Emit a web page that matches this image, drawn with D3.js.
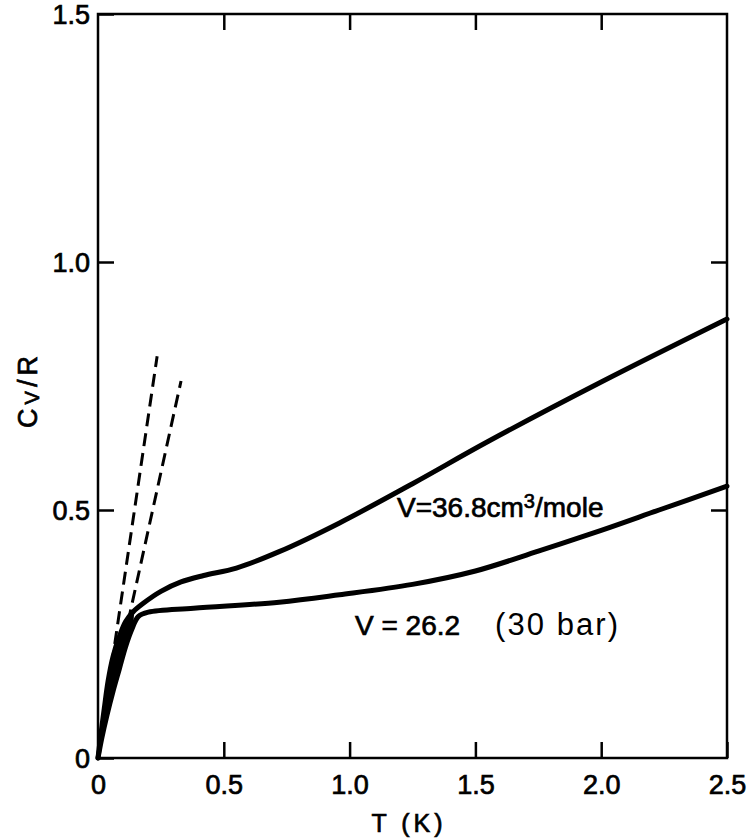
<!DOCTYPE html>
<html>
<head>
<meta charset="utf-8">
<script src="https://cdn.jsdelivr.net/npm/d3@7"></script>
<style>
  html, body { margin: 0; padding: 0; background: #fff; }
  svg { display: block; }
  .lbl { font-family: "Liberation Sans", Arial, sans-serif; fill: #000; }
  .ink { stroke: #000; stroke-width: 0.7px; }
</style>
</head>
<body>
<div id="chart"></div>
<script>
// Specific heat of liquid 3He vs temperature at two molar volumes
const xTicks = [0, 0.5, 1.0, 1.5, 2.0, 2.5];
const xTickLabels = ["0", "0.5", "1.0", "1.5", "2.0", "2.5"];
const yTicks = [0, 0.5, 1.0, 1.5];
const yTickLabels = ["0", "0.5", "1.0", "1.5"];

// V = 36.8 cm3/mole
const tUpper = [0, 0.012, 0.025, 0.04, 0.06, 0.085, 0.11, 0.14, 0.18, 0.25, 0.33, 0.42, 0.55, 0.72, 0.96, 1.25, 1.55, 2.0, 2.5];
const cUpper = [0, 0.05, 0.10, 0.155, 0.205, 0.245, 0.275, 0.295, 0.312, 0.336, 0.355, 0.368, 0.383, 0.416, 0.474, 0.553, 0.638, 0.758, 0.885];

// V = 26.2 cm3/mole (30 bar)
const tLower = [0, 0.015, 0.035, 0.06, 0.085, 0.11, 0.135, 0.16, 0.2, 0.38, 0.72, 0.96, 1.25, 1.5, 1.75, 2.0, 2.23, 2.5];
const cLower = [0, 0.04, 0.085, 0.135, 0.18, 0.225, 0.26, 0.285, 0.294, 0.302, 0.314, 0.329, 0.35, 0.377, 0.417, 0.459, 0.5, 0.548];

// low-temperature linear (gamma T) asymptotes
const tDash1 = [0.055, 0.235];
const cDash1 = [0.19, 0.81];
const tDash2 = [0.085, 0.33];
const cDash2 = [0.195, 0.76];

const W = 751, H = 839;
const svg = d3.select("#chart").append("svg").attr("width", W).attr("height", H);

const x = d3.scaleLinear().domain([0, 2.5]).range([98, 727]);
const y = d3.scaleLinear().domain([0, 1.5]).range([758, 14]);

const tickLen = 16;
const fmtX = d => xTickLabels[xTicks.indexOf(d)];
const fmtY = d => yTickLabels[yTicks.indexOf(d)];

function styleAxis(g) {
  g.select(".domain").remove();
  g.selectAll(".tick line").attr("stroke", "#000").attr("stroke-width", 2.5);
  g.selectAll(".tick text").attr("class", "lbl ink").attr("font-size", 27).attr("fill", "#000");
}

// bottom axis: inward ticks, labels below
svg.append("g").attr("transform", `translate(0,${y(0)})`)
  .call(d3.axisBottom(x).tickValues(xTicks).tickFormat(fmtX).tickSizeInner(-tickLen).tickSizeOuter(0).tickPadding(10))
  .call(styleAxis)
  .call(g => g.selectAll(".tick text").attr("dy", "0.95em"));

// top axis: ticks only
svg.append("g").attr("transform", `translate(0,${y(1.5)})`)
  .call(d3.axisTop(x).tickValues(xTicks.slice(1, -1)).tickFormat("").tickSizeInner(-tickLen).tickSizeOuter(0))
  .call(styleAxis);

// left axis: inward ticks, labels at left
svg.append("g").attr("transform", `translate(${x(0)},0)`)
  .call(d3.axisLeft(y).tickValues(yTicks).tickFormat(fmtY).tickSizeInner(-tickLen).tickSizeOuter(0).tickPadding(8))
  .call(styleAxis)
  .call(g => g.selectAll(".tick text").attr("dy", "0.36em"));

// right axis: ticks only
svg.append("g").attr("transform", `translate(${x(2.5)},0)`)
  .call(d3.axisRight(y).tickValues(yTicks.slice(1, -1)).tickFormat("").tickSizeInner(-tickLen).tickSizeOuter(0))
  .call(styleAxis);

// frame
svg.append("rect")
  .attr("x", x(0)).attr("y", y(1.5))
  .attr("width", x(2.5) - x(0)).attr("height", y(0) - y(1.5))
  .attr("fill", "none").attr("stroke", "#000").attr("stroke-width", 2.5);

const line = d3.line().x(d => x(d[0])).y(d => y(d[1])).curve(d3.curveCatmullRom.alpha(0.5));
const straight = d3.line().x(d => x(d[0])).y(d => y(d[1]));

// dashed asymptotes
[[tDash1, cDash1], [tDash2, cDash2]].forEach(([ts, cs]) => {
  svg.append("path")
    .attr("d", straight(ts.map((t, i) => [t, cs[i]])))
    .attr("fill", "none").attr("stroke", "#000").attr("stroke-width", 3)
    .attr("stroke-dasharray", "13,7");
});

// dense low-temperature data: band between the two curves is inked solid
const upPts = tUpper.map((t, i) => [t, cUpper[i]]);
const loPts = tLower.map((t, i) => [t, cLower[i]]);
const band = upPts.filter(d => d[0] <= 0.14).concat(loPts.filter(d => d[0] <= 0.135).reverse());
svg.append("path")
  .attr("d", straight(band) + "Z")
  .attr("fill", "#000").attr("stroke", "#000").attr("stroke-width", 2);

// measured curves
[upPts, loPts].forEach(pts => {
  svg.append("path")
    .attr("d", line(pts))
    .attr("fill", "none").attr("stroke", "#000").attr("stroke-width", 5)
    .attr("stroke-linejoin", "round").attr("stroke-linecap", "round");
});

// curve labels
const lab1 = svg.append("text").attr("class", "lbl ink").attr("font-size", 28)
  .attr("x", 397).attr("y", 517);
lab1.append("tspan").text("V=36.8cm");
lab1.append("tspan").attr("font-size", 20).attr("dy", -9).text("3");
lab1.append("tspan").attr("dy", 9).text("/mole");

svg.append("text").attr("class", "lbl ink").attr("font-size", 28)
  .attr("x", 355).attr("y", 635).text("V = 26.2");

svg.append("text").attr("class", "lbl").attr("font-size", 31)
  .attr("x", 495).attr("y", 635)
  .attr("textLength", 123).attr("lengthAdjust", "spacing")
  .text("(30 bar)");

// axis titles
svg.append("text").attr("class", "lbl ink").attr("font-size", 25)
  .attr("text-anchor", "middle").attr("letter-spacing", 4)
  .attr("x", 409).attr("y", 832).text("T (K)");

const yt = svg.append("text").attr("class", "lbl ink").attr("font-size", 27)
  .attr("text-anchor", "middle").attr("letter-spacing", 4)
  .attr("transform", "translate(37,390) rotate(-90)");
yt.append("tspan").text("C");
yt.append("tspan").attr("font-size", 20).attr("dy", 2).text("V");
yt.append("tspan").attr("dy", -2).text("/R");
</script>
</body>
</html>
